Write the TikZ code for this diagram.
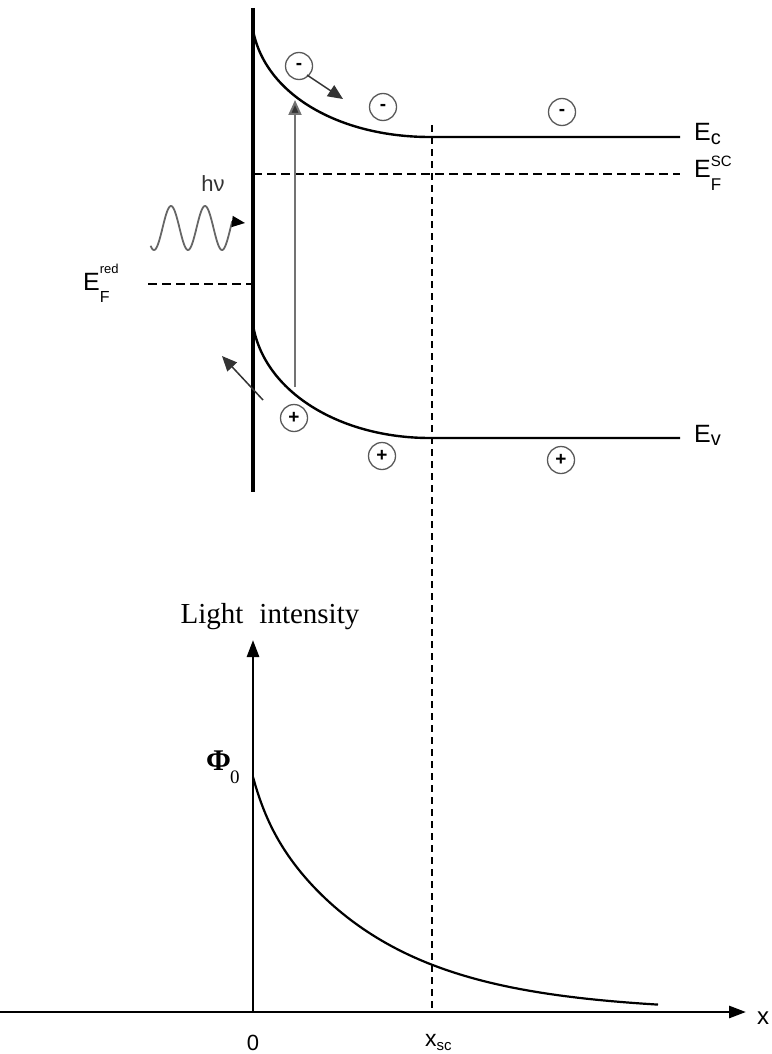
\documentclass[tikz,border=0pt]{standalone}
\usepackage{fontspec}
\setmainfont{Liberation Serif}
\newfontfamily\arialf{Liberation Sans}
\usetikzlibrary{arrows.meta}
\newcommand\fs[1]{\fontsize{#1}{#1}\selectfont}
\begin{document}
\begin{tikzpicture}[x=1pt,y=-1pt,
  band/.style={line width=2.4pt},
  wall/.style={line width=3.2pt},
  fermi/.style={line width=2.4pt, dash pattern=on 9pt off 5pt},
  xscline/.style={line width=1.4pt, dash pattern=on 7pt off 5pt},
  carrier/.style={circle, draw=black!65, line width=1.3pt, minimum size=27pt, inner sep=0pt, font=\arialf\bfseries\fs{19}},
  lab/.style={font=\arialf\fs{25}, inner sep=0pt, anchor=base west},
  carrow/.style={line width=1.5pt, draw=black!80, -{Triangle[length=15pt,width=13pt]}},
  photon/.style={line width=2pt, draw=black!55, -{Triangle[length=15pt,width=13pt,fill=black!80]}},
  wave/.style={line width=1.8pt, draw=black!60},
  axis/.style={line width=2.8pt, -{Triangle[length=17pt,width=12pt]}}
]
\useasboundingbox (0,0) rectangle (771,1054);

% ---------- band diagram ----------
\coordinate (w0) at (253,8);
\coordinate (w1) at (253,492);
\draw[wall] (w0) -- (w1);

\coordinate (cb0) at (253,30);
\coordinate (cb1) at (430,137);
\coordinate (cbE) at (680,137);
\draw[band] (cb0) .. controls (265,95) and (340,137) .. (cb1) -- (cbE);

\coordinate (vb0) at (253,325);
\coordinate (vb1) at (430,438);
\coordinate (vbE) at (680,438);
\draw[band] (vb0) .. controls (264,392) and (340,438) .. (vb1) -- (vbE);

\coordinate (fs0) at (253,174);
\coordinate (fs1) at (680,174);
\draw[fermi] (fs0) -- (fs1);

\coordinate (fr0) at (148,284);
\coordinate (fr1) at (251,284);
\draw[fermi] (fr0) -- (fr1);

\coordinate (xs0) at (432,125);
\coordinate (xs1) at (432,1012);
\draw[xscline] (xs0) -- (xs1);

\node[lab] (Ec) at (694,140) {E\raisebox{-4pt}{\fs{20}c}};
\node[lab] (EFsc) at (694,177) {E\rlap{\raisebox{11pt}{\fs{15}SC}}\raisebox{-13pt}{\fs{17}F}};
\node[lab] (EFred) at (83,290) {E\rlap{\raisebox{17pt}{\fs{13}red}}\raisebox{-12pt}{\fs{16}F}};
\node[lab] (Ev) at (694,442) {E\raisebox{-3pt}{\fs{20}v}};

% carriers
\node[carrier] (e1) at (299,66) {-};
\node[carrier] (e2) at (383,107) {-};
\node[carrier] (e3) at (562,112) {-};
\node[carrier] (h1) at (294,418) {+};
\node[carrier] (h2) at (382,456) {+};
\node[carrier] (h3) at (561,460) {+};

\coordinate (ea) at (307,75);
\coordinate (eb) at (343,99);
\draw[carrow] (ea) -- (eb);

\coordinate (ha) at (263,400);
\coordinate (hb) at (222,356);
\draw[carrow] (ha) -- (hb);

\coordinate (pa) at (295,387);
\coordinate (pb) at (295,100);
\draw[photon] (pa) -- (pb);

% light wave
\node[font=\arialf\fs{22}, anchor=base, text=black!80, inner sep=0pt] (hnu) at (213,191) {hν};
\draw[wave] plot[domain=-0.1:2.3, samples=120, variable=\u] ({154+34*\u},{228+22*cos(360*\u)});
\coordinate (wa) at (232,221.5);
\coordinate (wb) at (245,223);
\draw[line width=1.5pt, -{Triangle[length=13pt,width=11pt]}] (wa) -- (wb);

% ---------- light intensity plot ----------
\coordinate (o) at (253,1012);
\coordinate (ytip) at (253,640);
\coordinate (xstart) at (0,1012);
\coordinate (xtip) at (746,1012);
\draw[axis] (o) -- (ytip);
\draw[axis] (xstart) -- (xtip);

\draw[line width=2.2pt, line join=round] plot[domain=0:405, samples=160, variable=\d]
  ({253+\d},{1012-30*exp(-\d/15)-205*exp(-\d/122)});

\node[font=\fs{29}, anchor=base, inner sep=0pt] (LI) at (270,623) {Light\hspace{0.55em}intensity};
\node[font=\fs{30}\bfseries, anchor=base west, inner sep=0pt] (Phi) at (206,770) {Φ\kern-1pt\raisebox{-13pt}{\mdseries\fs{19}0}};

\node[font=\arialf\fs{22}, anchor=base, inner sep=0pt] (zero) at (253,1050) {0};
\node[font=\arialf\fs{23}, anchor=base west, inner sep=0pt] (xsc) at (425,1046) {x\raisebox{-4pt}{\fs{15}sc}};
\node[font=\arialf\fs{24}, anchor=base west, inner sep=0pt] (xl) at (757,1024) {x};
\end{tikzpicture}
\end{document}
